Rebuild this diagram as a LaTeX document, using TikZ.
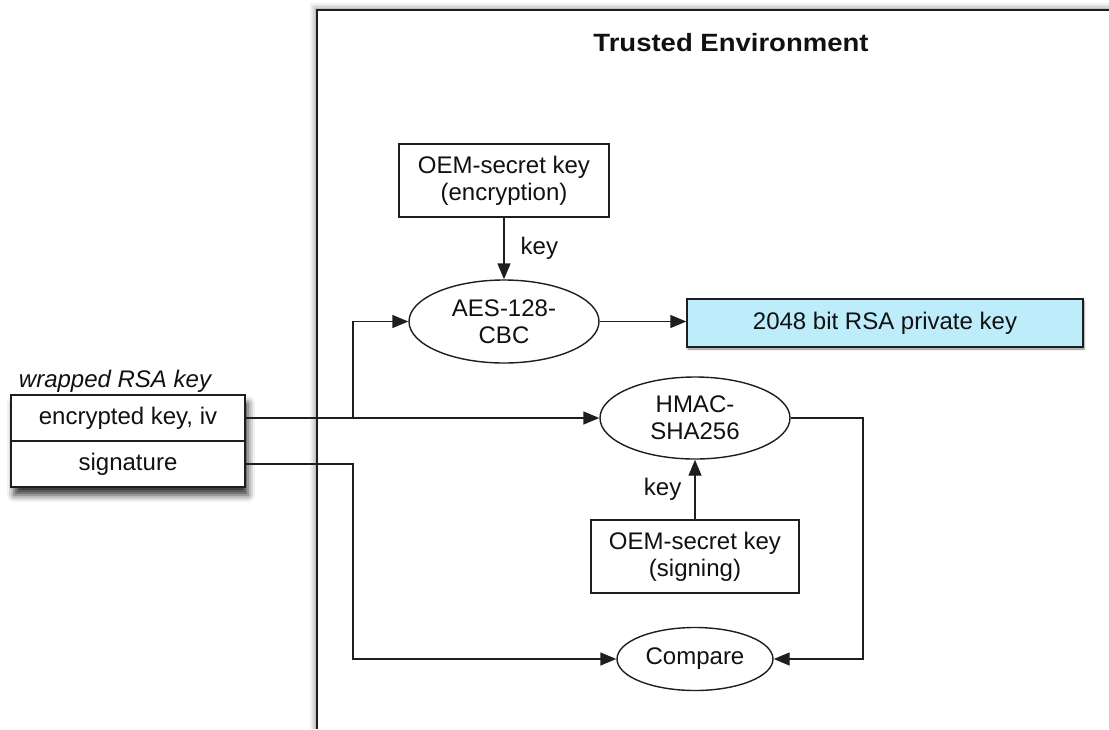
\documentclass[tikz,border=0pt]{standalone}
\usepackage{fontspec}
\setmainfont{Liberation Sans}
\usetikzlibrary{shapes.geometric,arrows.meta,shadows.blur}
\definecolor{ln}{HTML}{1E1E1E}
\definecolor{txt}{HTML}{111111}
\definecolor{rsafill}{RGB}{189,236,250}
\tikzset{
  box/.style={draw=ln, line width=1.4pt, fill=white, rectangle, inner sep=0pt, align=center, text=txt},
  oval/.style={draw=ln, line width=1.4pt, fill=white, ellipse, inner sep=0pt, align=center, text=txt},
  conn/.style={draw=ln, line width=1.4pt, -{Triangle[length=16pt,width=13pt]}},
  lbl/.style={text=txt, inner sep=0pt}
}
\begin{document}
\begin{tikzpicture}[x=1pt,y=-1pt,font=\fontsize{24}{27}\selectfont]
\useasboundingbox (0,0) rectangle (1109,729);
% trusted environment boundary (with soft shadow)
\foreach \o/\op in {6/0.06,4.5/0.1,3/0.16,1.5/0.25}{
  \draw[black, opacity=\op, line width=1.5pt] (317-\o,729) -- (317-\o,10-\o) -- (1109,10-\o);
}
\draw[ln, line width=1.6pt] (317,729) -- (317,10) -- (1109,10);
\node[lbl, font=\fontsize{25}{27}\selectfont\bfseries\addfontfeature{FakeStretch=1.1}] (title) at (731,43) {Trusted Environment};

% wrapped RSA key table
\node[lbl, font=\fontsize{24}{27}\selectfont\itshape] (wraplbl) at (115,381) {wrapped RSA key};
\node[rectangle, fill=white, minimum width=234pt, minimum height=92pt, inner sep=0pt,
  blur shadow={shadow xshift=3pt, shadow yshift=-8pt, shadow blur radius=7pt, shadow opacity=80}] (wrapbg) at (128,441) {};
\node[box, minimum width=234pt, minimum height=46pt] (encrow) at (128,418) {encrypted key, iv};
\node[box, minimum width=234pt, minimum height=46pt] (sigrow) at (128,464) {signature};

% nodes in trusted environment
\node[box, minimum width=210pt, minimum height=73pt] (encbox) at (504,180.5) {OEM-secret key\\(encryption)};
\node[oval, minimum width=190pt, minimum height=83pt] (aes) at (504,321.5) {AES-128-\\CBC};
\node[box, fill=rsafill, minimum width=396pt, minimum height=48pt,
  blur shadow={shadow xshift=1pt, shadow yshift=-2pt, shadow blur radius=2pt, shadow opacity=50}] (rsa) at (885,323) {2048 bit RSA private key};
\node[oval, minimum width=190pt, minimum height=82pt] (hmac) at (695,418) {HMAC-\\SHA256};
\node[box, minimum width=208pt, minimum height=73pt] (sigbox) at (695,556.5) {OEM-secret key\\(signing)};
\node[oval, minimum width=156pt, minimum height=63pt] (compare) at (695,659) {Compare};

% connectors
\coordinate (br) at (353,418);
\coordinate (rt) at (863,418);
\draw[conn] (encbox.south) -- node[lbl, right=16pt, pos=0.5] {key} (aes.north);
\draw[conn] (aes.east) -- (aes.east -| rsa.west);
\draw[conn] (encrow.east) -- (encrow.east -| hmac.west);
\draw[conn] (br) |- (aes.west);
\draw[conn] (sigrow.east) -- (sigrow.east -| br) |- (compare.west);
\draw[conn] (hmac.east) -- (rt) |- (compare.east);
\draw[conn] (sigbox.north) -- node[lbl, left=13pt, pos=0.5] {key} (hmac.south);
\end{tikzpicture}
\end{document}
